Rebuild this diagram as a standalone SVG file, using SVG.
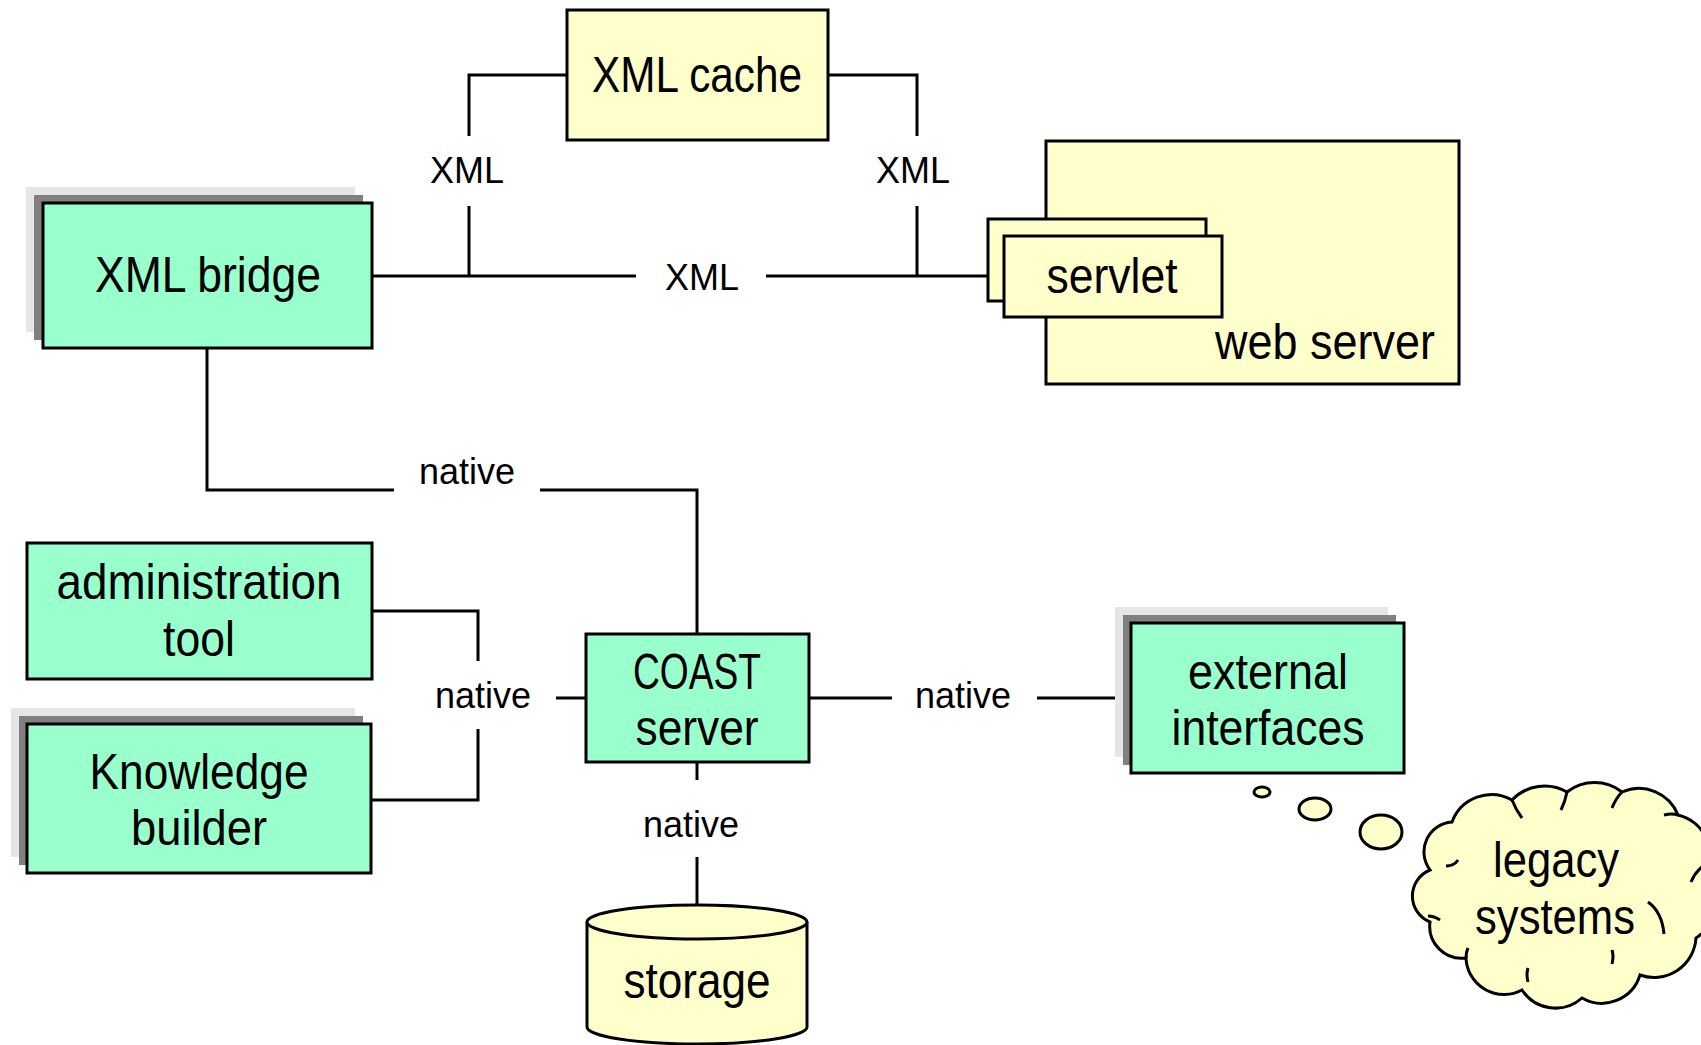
<svg xmlns="http://www.w3.org/2000/svg" width="1701" height="1045" viewBox="0 0 1701 1045">
<style>
.g{fill:#99FFCC;stroke:#000;stroke-width:3}
.y{fill:#FFFFCC;stroke:#000;stroke-width:3}
.s1{fill:#E6E6E6}
.s2{fill:#808080}
.t{font-family:"Liberation Sans",Arial,sans-serif;font-size:50px;fill:#000;text-anchor:middle}
.l{font-family:"Liberation Sans",Arial,sans-serif;font-size:36px;fill:#000;text-anchor:middle}
.c{fill:none;stroke:#000;stroke-width:3}
</style>
<rect width="1701" height="1045" fill="#fff"/>
<g id="connectors">
<polyline class="c" points="372,276 636,276"/>
<polyline class="c" points="766,276 990,276"/>
<polyline class="c" points="469,276 469,206"/>
<polyline class="c" points="469,136 469,75 567,75"/>
<polyline class="c" points="917,276 917,206"/>
<polyline class="c" points="917,136 917,75 828,75"/>
<polyline class="c" points="207,348 207,490 394,490"/>
<polyline class="c" points="540,490 697,490 697,634"/>
<polyline class="c" points="372,611 478,611 478,661"/>
<polyline class="c" points="371,800 478,800 478,729"/>
<polyline class="c" points="556,698 586,698"/>
<polyline class="c" points="809,698 892,698"/>
<polyline class="c" points="1037,698 1131,698"/>
<polyline class="c" points="697,762 697,780"/>
<polyline class="c" points="697,857 697,905"/>
<text class="l" x="467" y="183">XML</text>
<text class="l" x="913" y="183">XML</text>
<text class="l" x="702" y="290">XML</text>
<text class="l" x="467" y="484">native</text>
<text class="l" x="483" y="708">native</text>
<text class="l" x="963" y="708">native</text>
<text class="l" x="691" y="837">native</text>
</g>
<g id="xml-cache">
<rect class="y" x="567" y="10" width="261" height="130"/>
<text class="t" x="697" y="92" textLength="210" lengthAdjust="spacingAndGlyphs">XML cache</text>
</g>
<g id="xml-bridge">
<rect class="s1" x="26" y="187" width="329" height="145"/>
<rect class="s2" x="34" y="195" width="329" height="145"/>
<rect class="g" x="43" y="203" width="329" height="145"/>
<text class="t" x="208" y="292" textLength="226" lengthAdjust="spacingAndGlyphs">XML bridge</text>
</g>
<g id="web-server">
<rect class="y" x="1046" y="141" width="413" height="243"/>
<text class="t" x="1435" y="359" style="text-anchor:end" textLength="220" lengthAdjust="spacingAndGlyphs">web server</text>
</g>
<g id="servlet">
<rect class="y" x="988" y="219" width="218" height="82"/>
<rect class="y" x="1004" y="236" width="218" height="81"/>
<text class="t" x="1112" y="293" textLength="131" lengthAdjust="spacingAndGlyphs">servlet</text>
</g>
<g id="administration-tool">
<rect class="g" x="27" y="543" width="345" height="136"/>
<text class="t" x="199" y="599" textLength="285" lengthAdjust="spacingAndGlyphs">administration</text>
<text class="t" x="199" y="656" textLength="72" lengthAdjust="spacingAndGlyphs">tool</text>
</g>
<g id="knowledge-builder">
<rect class="s1" x="11" y="708" width="344" height="149"/>
<rect class="s2" x="19" y="716" width="344" height="149"/>
<rect class="g" x="27" y="724" width="344" height="149"/>
<text class="t" x="199" y="789" textLength="219" lengthAdjust="spacingAndGlyphs">Knowledge</text>
<text class="t" x="199" y="845" textLength="136" lengthAdjust="spacingAndGlyphs">builder</text>
</g>
<g id="coast-server">
<rect class="g" x="586" y="634" width="223" height="128"/>
<text class="t" x="697" y="689" textLength="128" lengthAdjust="spacingAndGlyphs">COAST</text>
<text class="t" x="697" y="745" textLength="123" lengthAdjust="spacingAndGlyphs">server</text>
</g>
<g id="external-interfaces">
<rect class="s1" x="1115" y="607" width="273" height="150"/>
<rect class="s2" x="1123" y="615" width="273" height="150"/>
<rect class="g" x="1131" y="623" width="273" height="150"/>
<text class="t" x="1268" y="689" textLength="160" lengthAdjust="spacingAndGlyphs">external</text>
<text class="t" x="1268" y="745" textLength="193" lengthAdjust="spacingAndGlyphs">interfaces</text>
</g>
<g id="storage">
<path class="y" d="M587,922 L587,1027 A110,17 0 0 0 807,1027 L807,922"/>
<ellipse class="y" cx="697" cy="922" rx="110" ry="17"/>
<text class="t" x="697" y="998" textLength="147" lengthAdjust="spacingAndGlyphs">storage</text>
</g>
<g id="legacy-systems">
<ellipse class="y" cx="1262" cy="792" rx="8" ry="5"/>
<ellipse class="y" cx="1315" cy="809" rx="16" ry="11"/>
<ellipse class="y" cx="1381" cy="832" rx="21" ry="17"/>
<path class="y" d="M1430,870 A30,30 0 0 1 1452,822 A42,42 0 0 1 1512,800 A45,45 0 0 1 1567,792 A45,45 0 0 1 1622,792 A42,42 0 0 1 1678,815 A42,42 0 0 1 1704,878 A40,40 0 0 1 1696,938 A42,42 0 0 1 1640,975 A40,40 0 0 1 1582,998 A40,40 0 0 1 1522,990 A38,38 0 0 1 1466,958 A32,32 0 0 1 1430,922 A28,28 0 0 1 1430,870 Z"/>
<path class="c" d="M1446,866 q8,0 12,-6 M1512,800 q4,10 10,18 M1567,792 q-2,10 -6,18 M1622,792 q-6,6 -10,16 M1664,815 q8,-2 14,0 M1703,866 q-8,6 -12,16 M1648,902 q14,10 16,32 M1612,964 q2,-8 0,-14 M1528,968 q-2,6 0,14 M1466,958 q0,-6 2,-10 M1428,916 q6,0 12,4"/>
<text class="t" x="1556" y="877" textLength="126" lengthAdjust="spacingAndGlyphs">legacy</text>
<text class="t" x="1555" y="934" textLength="160" lengthAdjust="spacingAndGlyphs">systems</text>
</g>
</svg>
